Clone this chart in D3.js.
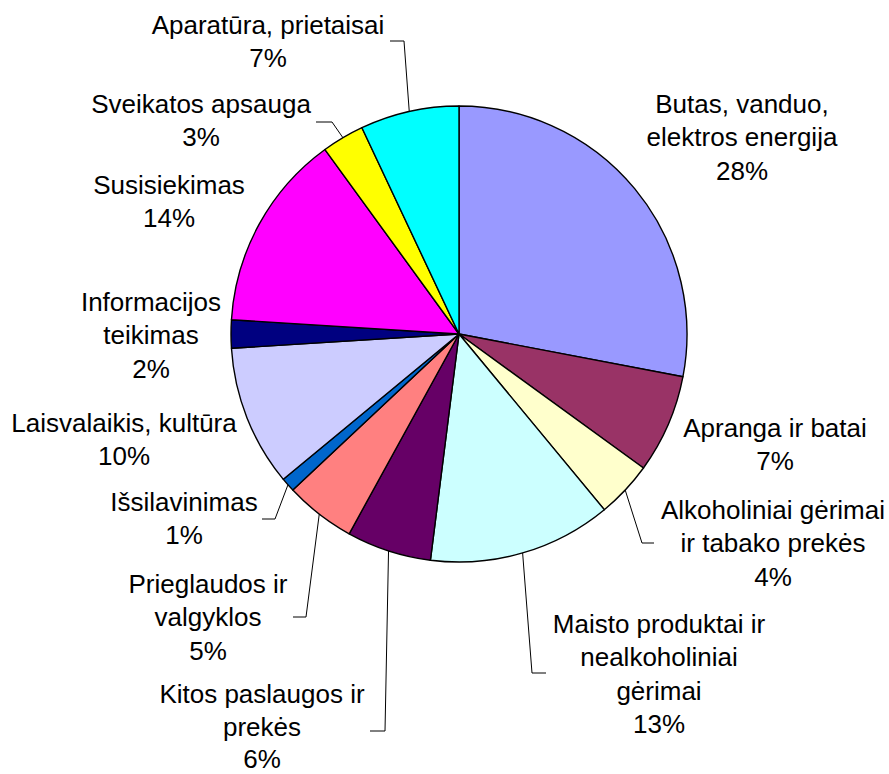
<!DOCTYPE html>
<html>
<head>
<meta charset="utf-8">
<script src="https://cdn.jsdelivr.net/npm/d3@7"></script>
<style>
  html, body { margin: 0; padding: 0; background: #fff; }
  svg { display: block; }
  text { font-family: "Liberation Sans", Arial, sans-serif; font-size: 26px; fill: #000; }
</style>
</head>
<body>
<svg id="chart" width="889" height="774"></svg>
<script>
// ---- data ----
const categories = [
  "Butas, vanduo,\nelektros energija",
  "Apranga ir batai",
  "Alkoholiniai gėrimai\nir tabako prekės",
  "Maisto produktai ir\nnealkoholiniai\ngėrimai",
  "Kitos paslaugos ir\nprekės",
  "Prieglaudos ir\nvalgyklos",
  "Išsilavinimas",
  "Laisvalaikis, kultūra",
  "Informacijos\nteikimas",
  "Susisiekimas",
  "Sveikatos apsauga",
  "Aparatūra, prietaisai"
];
const values = [28, 7, 4, 13, 6, 5, 1, 10, 2, 14, 3, 7];
const colors = ["#9999FF", "#993366", "#FFFFCC", "#CCFFFF", "#660066", "#FF8080",
                "#0066CC", "#CCCCFF", "#000080", "#FF00FF", "#FFFF00", "#00FFFF"];

// ---- layout (label anchor: centre x, first baseline y, line height; leader: text-side end and elbow) ----
const labelPos = [
  {x: 742, y: 113, h: 33.3}, {x: 775, y: 437, h: 33.3}, {x: 773, y: 519, h: 33.3}, {x: 659, y: 633, h: 33.3},
  {x: 262, y: 703, h: 32.5}, {x: 208, y: 593, h: 33.3}, {x: 184, y: 511, h: 33.3}, {x: 124, y: 432, h: 33.3},
  {x: 151, y: 311, h: 33.3}, {x: 169, y: 194, h: 33.3}, {x: 201, y: 113, h: 33.3}, {x: 268, y: 34, h: 33.3}
];
const leaders = [
  null, null,
  [[654, 543], [642, 543]],
  [[546, 673], [532, 673]],
  [[370, 731], [385, 731]],
  [[293, 617], [306, 617]],
  [[262, 519], [275, 519]],
  null, null, null,
  [[316, 122], [332, 122]],
  [[390, 41], [404, 41]]
];

const cx = 459, cy = 334, R = 228;
const svg = d3.select("#chart");
const g = svg.append("g").attr("transform", `translate(${cx},${cy})`);

const data = categories.map((c, i) => ({name: c, value: values[i], color: colors[i], i}));
const pie = d3.pie().sort(null).value(d => d.value).startAngle(0).endAngle(2 * Math.PI);
const arcs = pie(data);
const arc = d3.arc().innerRadius(0).outerRadius(R);

g.selectAll("path.slice").data(arcs).enter().append("path")
  .attr("class", "slice")
  .attr("d", arc)
  .attr("fill", d => d.data.color)
  .attr("stroke", "#000")
  .attr("stroke-width", 1.4)
  .attr("stroke-linejoin", "round");

// leader lines
const line = d3.line();
arcs.forEach((a, i) => {
  const L = leaders[i];
  if (!L) return;
  const mid = (a.startAngle + a.endAngle) / 2;
  const sx = cx + R * Math.sin(mid), sy = cy - R * Math.cos(mid);
  svg.append("path")
    .attr("d", line([L[0], L[1], [sx, sy]]))
    .attr("fill", "none")
    .attr("stroke", "#000")
    .attr("stroke-width", 1);
});

// labels
arcs.forEach((a, i) => {
  const lines = a.data.name.split("\n").concat([a.data.value + "%"]);
  const p = labelPos[i];
  const t = svg.append("text")
    .attr("text-anchor", "middle")
    .attr("x", p.x)
    .attr("y", p.y);
  lines.forEach((s, k) => {
    t.append("tspan").attr("x", p.x).attr("y", p.y + k * p.h).text(s);
  });
});
</script>
</body>
</html>
